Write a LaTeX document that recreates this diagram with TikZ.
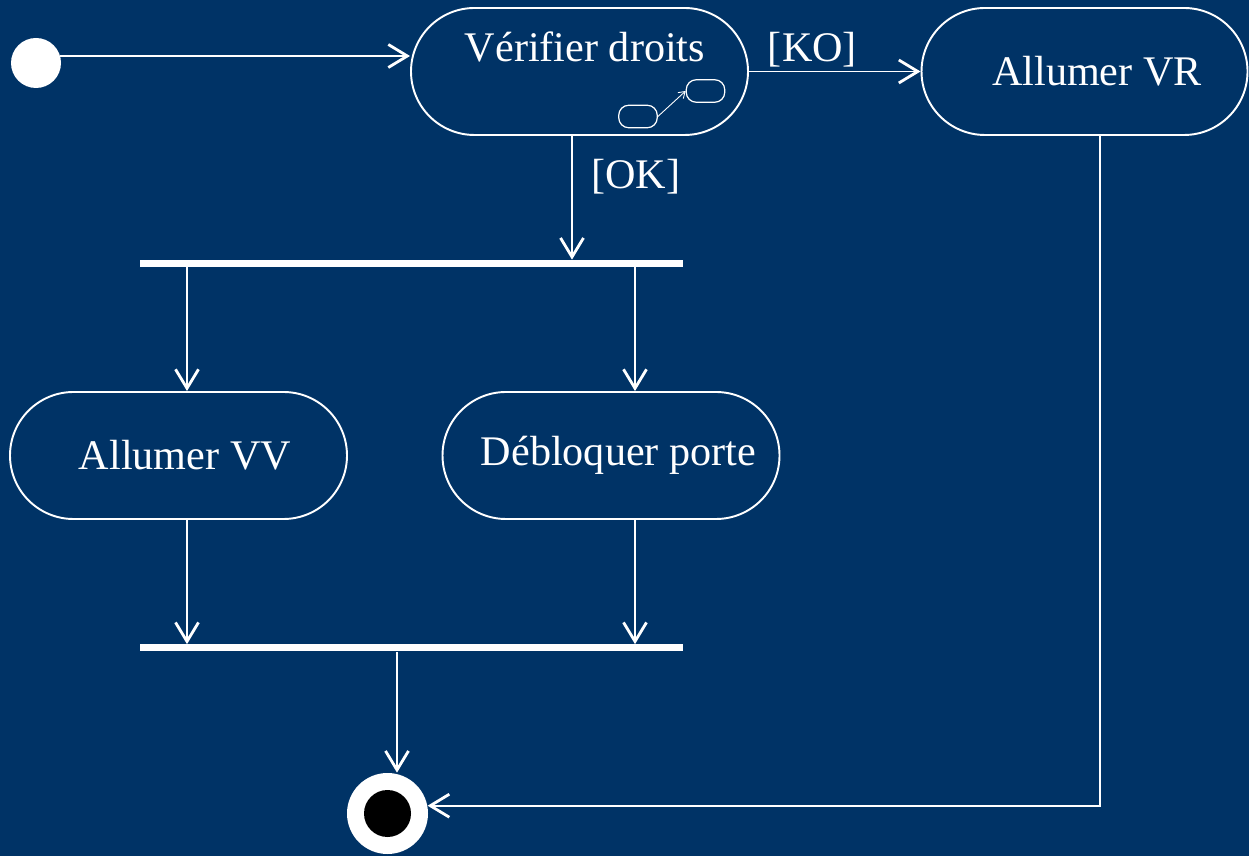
\documentclass[tikz,border=0pt]{standalone}
\usepackage{fontspec}
\setmainfont{Liberation Serif}
\usetikzlibrary{arrows.meta,positioning}
\definecolor{umlbg}{RGB}{0,51,102}

\begin{document}
\begin{tikzpicture}[
    every node/.style={font=\fontsize{24}{29}\selectfont, text=white},
    action/.style={draw=white, line width=1.1pt, rounded corners=1.27cm,
      minimum width=6.74cm, minimum height=2.54cm, inner sep=0pt},
    bar/.style={fill=white, minimum width=10.86cm, minimum height=0.14cm, inner sep=0pt},
    mini/.style={draw=white, line width=0.7pt, rounded corners=0.2cm,
      minimum width=0.77cm, minimum height=0.45cm, inner sep=0pt},
    flow/.style={draw=white, line width=1.1pt,
      -{Straight Barb[length=0.38cm,width=0.46cm,line width=1.6pt]}},
    lbl/.style={inner sep=2pt}
  ]
      \fill[umlbg] (0,0) rectangle (24.98,17.12);
      % start and end
      \node[circle, fill=white, minimum size=1cm, inner sep=0pt] (init) at (0.72,15.86) {};
      \node[circle, fill=white, minimum size=1.62cm, inner sep=0pt] (final) at (7.75,0.85) {};
      \node[circle, fill=black, minimum size=0.94cm, inner sep=0pt] (finalin) at (final) {};
      % actions
      \node[action] (verif) at (11.59,15.69) {};
      \node (veriftxt) at ([xshift=0.11cm,yshift=0.49cm]verif.center) {Vérifier droits};
      \node[mini] (suba) at (12.76,14.79) {};
      \node[mini] (subb) at (14.11,15.30) {};
      \draw[white, line width=0.5pt, -{Straight Barb[length=0.12cm,width=0.16cm]}]
        (suba.east) -- (subb.west);
      \node[action, minimum width=6.52cm] (vr) at (21.69,15.69) {\hspace*{0.5cm}Allumer VR};
      \node[action] (vv) at (3.57,8.01) {\hspace*{0.26cm}Allumer VV};
      \node[action] (porte) at (12.22,8.01) {\hspace*{0.3cm}Débloquer porte};
      % fork and join
      \node[bar] (fork) at (8.23,11.85) {};
      \node[bar] (join) at (8.23,4.16) {};
      % flows
      \draw[flow] (init.16) -- (init.16 -| verif.west);
      \draw[flow] (verif.east) -- (vr.west) node[lbl, above, pos=0.37] {[KO]};
      \draw[flow] ([xshift=-0.15cm]verif.south) -- ([xshift=-0.15cm]verif.south |- fork.north)
        node[lbl, right=0.3cm, pos=0.33] {[OK]};
      \draw[flow] ([xshift=0.17cm]vv.north |- fork.south) -- ([xshift=0.17cm]vv.north);
      \draw[flow] ([xshift=0.48cm]porte.north |- fork.south) -- ([xshift=0.48cm]porte.north);
      \draw[flow] ([xshift=0.17cm]vv.south) -- ([xshift=0.17cm]vv.south |- join.north);
      \draw[flow] ([xshift=0.48cm]porte.south) -- ([xshift=0.48cm]porte.south |- join.north);
      \draw[flow] ([xshift=0.19cm]final.north |- join.south) -- ([xshift=0.19cm]final.north);
      \draw[flow] ([xshift=0.31cm]vr.south) |- (final.11);
\end{tikzpicture}
\end{document}
